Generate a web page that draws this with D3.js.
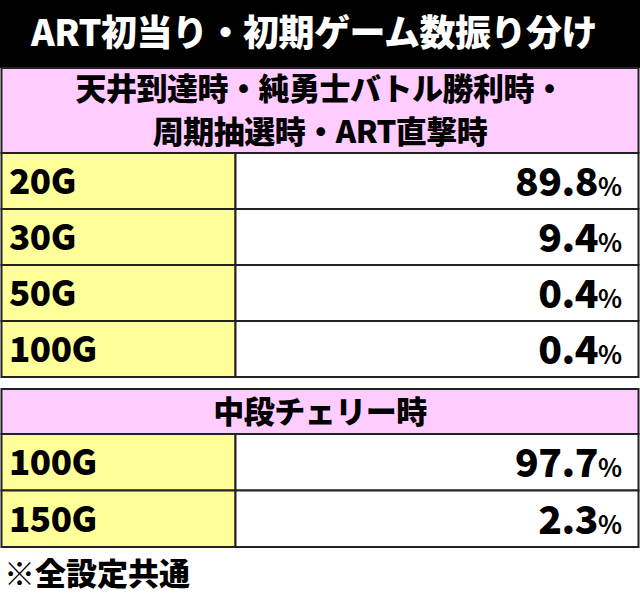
<!DOCTYPE html><html><head><meta charset="utf-8"><script src="https://cdn.jsdelivr.net/npm/d3@7"></script>
<style>body{margin:0;background:#fff}</style></head><body><svg id="c" width="640" height="598"></svg>
<script>
const title = "ART初当り・初期ゲーム数振り分け";
const header1 = ["天井到達時・純勇士バトル勝利時・","周期抽選時・ART直撃時"];
const labels1 = ["20G","30G","50G","100G"];
const values1 = [89.8, 9.4, 0.4, 0.4];
const header2 = ["中段チェリー時"];
const labels2 = ["100G","150G"];
const values2 = [97.7, 2.3];
const note = "※全設定共通";

const svg = d3.select("#c");
const F = "'Noto Sans CJK JP','Noto Sans',sans-serif";
svg.append("rect").attr("x",0).attr("y",0).attr("width",640).attr("height",68).attr("fill","#000");
svg.append("text").attr("x",314).attr("y",46).attr("text-anchor","middle").attr("fill","#fff")
  .attr("font-family",F).attr("font-weight",900).attr("font-size",36).attr("letter-spacing",-0.5).text(title);

function table(top, hdrBottom, header, labels, values, rowH){
  svg.append("rect").attr("x",1.5).attr("y",top).attr("width",637).attr("height",hdrBottom-top)
    .attr("fill","#ffccff").attr("stroke","#222").attr("stroke-width",2);
  const n=header.length, hh=hdrBottom-top;
  header.forEach((t,i)=>svg.append("text").attr("x",320).attr("y",top+hh*(i+0.5)/n+11)
    .attr("text-anchor","middle").attr("font-family",F).attr("font-weight",900).attr("font-size",31).attr("letter-spacing",-0.5).text(t));
  const y=d3.scaleBand().domain(labels).range([hdrBottom,hdrBottom+rowH*labels.length]);
  const g=svg.selectAll(null).data(labels).enter().append("g").attr("transform",d=>`translate(0,${y(d)})`);
  g.append("rect").attr("x",1.5).attr("width",234).attr("height",y.bandwidth()).attr("fill","#ffff99").attr("stroke","#222").attr("stroke-width",2);
  g.append("rect").attr("x",235.5).attr("width",403).attr("height",y.bandwidth()).attr("fill","#fff").attr("stroke","#222").attr("stroke-width",2);
  g.append("text").attr("x",9).attr("y",y.bandwidth()/2+13).attr("font-family",F).attr("font-weight",900).attr("font-size",35).attr("letter-spacing",-0.5).text(d=>d);
  const v=g.append("text").attr("x",622).attr("y",y.bandwidth()/2+15).attr("text-anchor","end").attr("font-family",F).attr("font-weight",900);
  v.append("tspan").attr("font-size",39).attr("letter-spacing",-0.5).text((d,i)=>values[i].toFixed(1));
  v.append("tspan").attr("font-size",25).attr("font-weight",700).text("%");
}
table(68,153,header1,labels1,values1,56);
table(389,434,header2,labels2,values2,56.5);
svg.append("text").attr("x",4).attr("y",585).attr("font-family",F).attr("font-weight",900).attr("font-size",31).text(note);
</script></body></html>
